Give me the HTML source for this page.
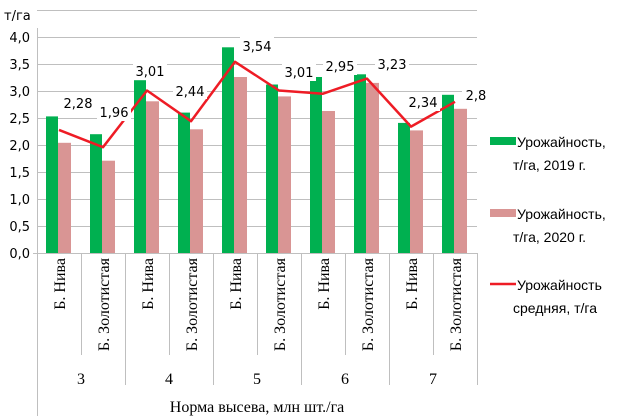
<!DOCTYPE html>
<html><head><meta charset="utf-8"><style>
body{margin:0;background:#fff;}
svg{display:block;}
.s{font-family:"Liberation Sans",sans-serif;font-size:14px;fill:#000;}
.t{font-family:"DejaVu Sans",sans-serif;font-size:13px;fill:#000;}
.r{font-family:"Liberation Serif",serif;font-size:16px;fill:#000;}
</style></head><body>
<svg width="617" height="417" xmlns="http://www.w3.org/2000/svg">
<rect width="617" height="417" fill="#fff"/>
<g stroke="#bfbfbf" stroke-width="1">
<line x1="37" x2="477" y1="10.5" y2="10.5"/>
<line x1="37" x2="477" y1="37.5" y2="37.5"/>
<line x1="37" x2="477" y1="64.5" y2="64.5"/>
<line x1="37" x2="477" y1="91.5" y2="91.5"/>
<line x1="37" x2="477" y1="118.5" y2="118.5"/>
<line x1="37" x2="477" y1="145.5" y2="145.5"/>
<line x1="37" x2="477" y1="172.5" y2="172.5"/>
<line x1="37" x2="477" y1="199.5" y2="199.5"/>
<line x1="37" x2="477" y1="226.5" y2="226.5"/>
<line x1="33" x2="477" y1="253.5" y2="253.5"/>
<line x1="37.5" x2="37.5" y1="28" y2="416"/>
<line x1="81.5" x2="81.5" y1="253" y2="355"/>
<line x1="169.5" x2="169.5" y1="253" y2="355"/>
<line x1="257.5" x2="257.5" y1="253" y2="355"/>
<line x1="345.5" x2="345.5" y1="253" y2="355"/>
<line x1="433.5" x2="433.5" y1="253" y2="355"/>
<line x1="125.5" x2="125.5" y1="253" y2="385"/>
<line x1="213.5" x2="213.5" y1="253" y2="385"/>
<line x1="301.5" x2="301.5" y1="253" y2="385"/>
<line x1="389.5" x2="389.5" y1="253" y2="385"/>
<line x1="477.5" x2="477.5" y1="253" y2="385"/>
</g>
<g class="t" text-anchor="end">
<text x="30" y="42">4,0</text><text x="30" y="69">3,5</text><text x="30" y="96">3,0</text>
<text x="30" y="123">2,5</text><text x="30" y="150">2,0</text><text x="30" y="177">1,5</text>
<text x="30" y="204">1,0</text><text x="30" y="231">0,5</text><text x="30" y="258">0,0</text>
</g>
<text class="t" x="4" y="20">т/га</text>
<g fill="#00b050">
<rect x="46" y="116.4" width="12" height="136.6"/>
<rect x="90" y="134.2" width="12" height="118.8"/>
<rect x="134" y="80.2" width="12" height="172.8"/>
<rect x="178" y="112.6" width="12" height="140.4"/>
<rect x="222" y="47.3" width="12" height="205.7"/>
<rect x="266" y="84.5" width="12" height="168.5"/>
<rect x="310" y="77" width="12" height="176"/>
<rect x="354" y="74.3" width="12" height="178.7"/>
<rect x="398" y="122.9" width="12" height="130.1"/>
<rect x="442" y="94.8" width="12" height="158.2"/>
</g>
<g fill="#d99594">
<rect x="58" y="142.8" width="13" height="110.2"/>
<rect x="102" y="160.7" width="13" height="92.3"/>
<rect x="146" y="101.3" width="13" height="151.7"/>
<rect x="190" y="129.3" width="13" height="123.7"/>
<rect x="234" y="77" width="13" height="176"/>
<rect x="278" y="96.4" width="13" height="156.6"/>
<rect x="322" y="111" width="13" height="142"/>
<rect x="366" y="82.9" width="13" height="170.1"/>
<rect x="410" y="130.4" width="13" height="122.6"/>
<rect x="454" y="108.8" width="13" height="144.2"/>
</g>
<polyline fill="none" stroke="#ee1c25" stroke-width="2.5" stroke-linejoin="round" points="59,129.9 103,147.2 147,90.5 191,121.2 235,61.8 279,90.5 323,93.7 367,78.6 411,126.6 455,101.8"/>
<g fill="#fff">
<rect x="61" y="95" width="33" height="17"/><rect x="97" y="104" width="34" height="17"/>
<rect x="133" y="62" width="34" height="17"/><rect x="173" y="82" width="34" height="17"/>
<rect x="240" y="37" width="34" height="17"/><rect x="282" y="64" width="34" height="17"/>
<rect x="323" y="58" width="34" height="17"/><rect x="375" y="56" width="34" height="17"/>
<rect x="406" y="94" width="34" height="17"/><rect x="462" y="87" width="20" height="17"/>
</g>
<g class="t" text-anchor="middle">
<text x="78" y="108">2,28</text><text x="114" y="117">1,96</text>
<text x="150" y="76">3,01</text><text x="190" y="96">2,44</text>
<text x="257" y="51">3,54</text><text x="299" y="77">3,01</text>
<text x="340" y="71">2,95</text><text x="392" y="69">3,23</text>
<text x="423" y="107">2,34</text><text x="476" y="100">2,8</text>
</g>
<g class="r" text-anchor="end">
<text transform="translate(65,258) rotate(-90)">Б. Нива</text>
<text transform="translate(109,258) rotate(-90)">Б. Золотистая</text>
<text transform="translate(153,258) rotate(-90)">Б. Нива</text>
<text transform="translate(197,258) rotate(-90)">Б. Золотистая</text>
<text transform="translate(241,258) rotate(-90)">Б. Нива</text>
<text transform="translate(285,258) rotate(-90)">Б. Золотистая</text>
<text transform="translate(329,258) rotate(-90)">Б. Нива</text>
<text transform="translate(373,258) rotate(-90)">Б. Золотистая</text>
<text transform="translate(417,258) rotate(-90)">Б. Нива</text>
<text transform="translate(461,258) rotate(-90)">Б. Золотистая</text>
</g>
<g class="r" text-anchor="middle">
<text x="81" y="384">3</text><text x="169" y="384">4</text><text x="257" y="384">5</text>
<text x="345" y="384">6</text><text x="433" y="384">7</text>
<text x="257" y="412">Норма высева, млн шт./га</text>
</g>
<rect x="490" y="137" width="26" height="8" fill="#00b050"/>
<rect x="490" y="209" width="26" height="8" fill="#d99594"/>
<line x1="490" x2="516" y1="284" y2="284" stroke="#ee1c25" stroke-width="2.5"/>
<g class="s">
<text x="517" y="147">Урожайность,</text><text x="513" y="170">т/га, 2019 г.</text>
<text x="517" y="219">Урожайность,</text><text x="513" y="242">т/га, 2020 г.</text>
<text x="517" y="290">Урожайность</text><text x="513" y="313">средняя, т/га</text>
</g>
</svg>
</body></html>
